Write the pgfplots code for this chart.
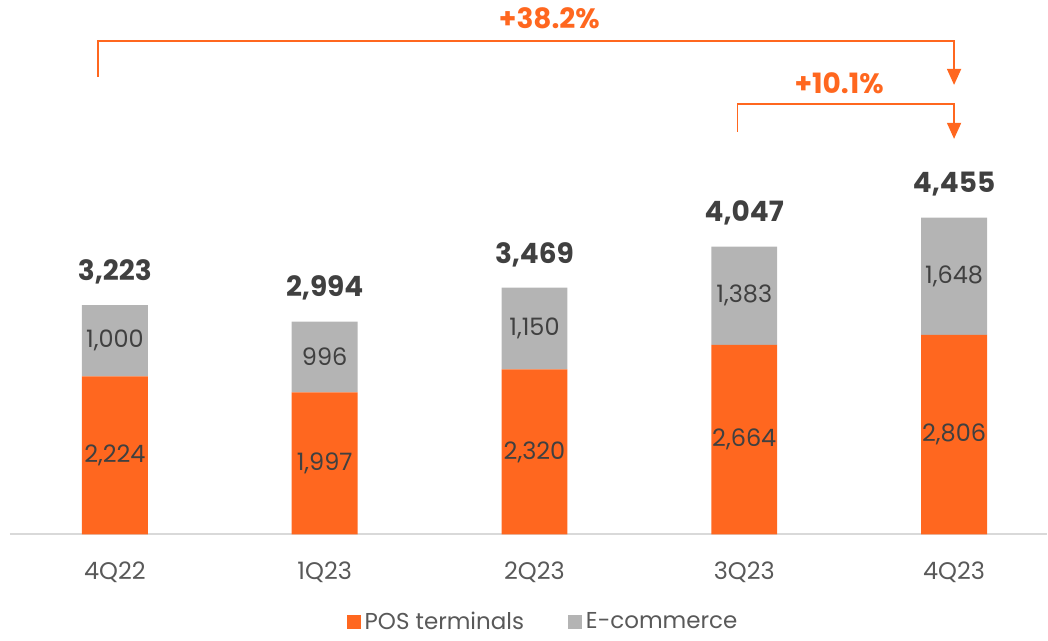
\documentclass[border=0pt]{standalone}
\usepackage{fontspec}
\setmainfont{Poppins}
\usepackage{pgfplots}
\pgfplotsset{compat=1.18}
\usetikzlibrary{arrows.meta}
\definecolor{posc}{HTML}{FF671F}
\definecolor{ecom}{HTML}{B4B4B4}
\definecolor{txt}{HTML}{404040}
\definecolor{tickc}{HTML}{595959}
\definecolor{axisc}{HTML}{D9D9D9}
\pgfplotsset{
  common/.style={
    scale only axis,
    width=519pt, height=267.5pt,
    xmin=-0.5, xmax=4.443,
    ymin=0, ymax=7514,
    clip=false,
    /pgf/number format/.cd, 1000 sep={,}, assume math mode=true, /pgfplots/.cd,
  }
}
\begin{document}
\begin{tikzpicture}
\begin{axis}[
  common,
  ybar stacked,
  bar width=33pt,
  axis x line=bottom,
  axis y line=none,
  x axis line style={draw=axisc, line width=1pt, -},
  xtick={0,1,2,3,4},
  xticklabels={4Q22,1Q23,2Q23,3Q23,4Q23},
  xtick style={draw=none},
  xticklabel style={font=\fontsize{12}{14}\selectfont, text=tickc, yshift=-8pt},
  nodes near coords style={font=\fontsize{12}{14}\selectfont, text=txt},
  legend style={at={(0.515,-0.164)}, anchor=center, draw=none, legend columns=2,
    font=\fontsize{11.5}{13}\selectfont, text=tickc,
    /tikz/every even column/.append style={column sep=20pt}},
  legend image code/.code={\fill[#1] (0pt,-3.5pt) rectangle (7pt,3.5pt);},
]
\addplot[fill=posc, draw=none, nodes near coords, nodes near coords align={center}]
  coordinates {(0,2224) (1,1997) (2,2320) (3,2664) (4,2806)};
\addlegendentry{POS terminals}
\addplot[fill=ecom, draw=none, nodes near coords, nodes near coords align={center}]
  coordinates {(0,1000) (1,996) (2,1150) (3,1383) (4,1648)};
\addlegendentry{E-commerce}
% growth brackets
\draw[posc, line width=0.8pt, -{Triangle[width=7pt,length=8pt]}]
  (axis cs:-0.081,6433) -- (axis cs:-0.081,6938) -- (axis cs:4.0,6938) -- (axis cs:4.0,6320);
\draw[posc, line width=0.8pt, -{Triangle[width=7pt,length=8pt]}]
  (axis cs:2.967,5660) -- (axis cs:2.967,6053) -- (axis cs:4.0,6053) -- (axis cs:4.0,5562);
\node[text=posc, font=\fontsize{14}{16}\selectfont\bfseries] at (axis cs:2.071,7261) {+38.2\%};
\node[text=posc, font=\fontsize{14}{16}\selectfont\bfseries] at (axis cs:3.452,6348) {+10.1\%};
\path (rel axis cs:-0.00963,-0.1832) rectangle (rel axis cs:1,1);
\end{axis}
\begin{axis}[common, hide axis]
\addplot[only marks, mark=none, point meta=y, nodes near coords,
  nodes near coords style={anchor=south, yshift=7pt,
  font=\fontsize{14}{16}\selectfont\bfseries, text=txt}]
  coordinates {(0,3223) (1,2994) (2,3469) (3,4047) (4,4455)};
\end{axis}
\end{tikzpicture}
\end{document}
